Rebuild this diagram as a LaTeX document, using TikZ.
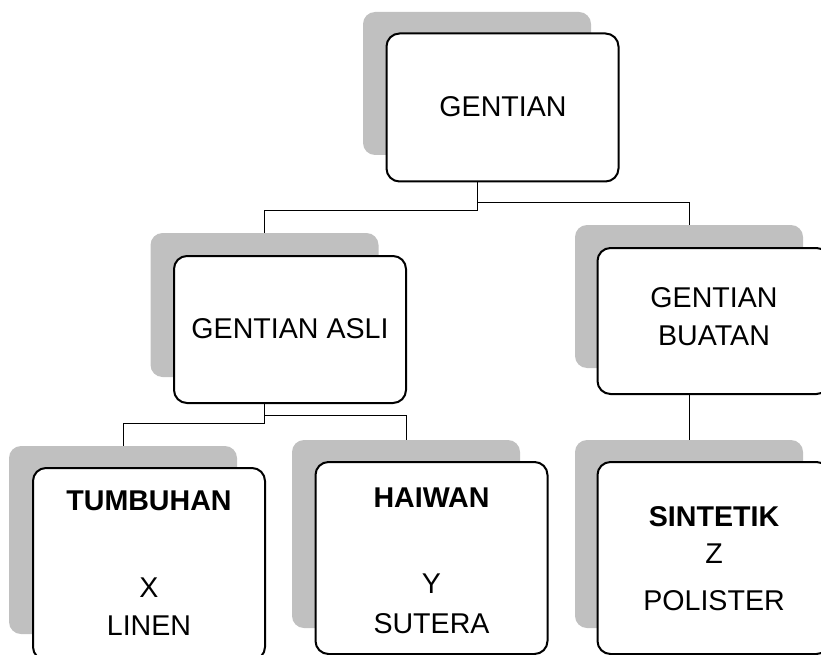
\documentclass[tikz,border=0pt]{standalone}
\usepackage{fontspec}
\setmainfont{Liberation Sans}
\definecolor{shadegray}{RGB}{192,192,192}
\begin{document}
\begin{tikzpicture}[x=1pt,y=-1pt,
  shadowbox/.style={rectangle, fill=shadegray, draw=none, rounded corners=12pt, inner sep=0pt, minimum width=228pt},
  mainbox/.style={rectangle, fill=white, draw=black, line width=2pt, rounded corners=13pt, inner sep=0pt, minimum width=232pt},
  conn/.style={draw=black, line width=0.9pt},
  lbl/.style={anchor=base, inner sep=0pt, font=\fontsize{28.6}{34}\selectfont},
  blbl/.style={lbl, font=\fontsize{28.6}{34}\selectfont\bfseries}]
\useasboundingbox (0,0) rectangle (821,655);
\clip (0,0) rectangle (821,655);
% shadows
\node[shadowbox, minimum height=143pt] (s1) at (477,83.5) {};
\node[shadowbox, minimum height=144pt] (s2) at (264.5,305) {};
\node[shadowbox, minimum height=143pt] (s3) at (689,296.5) {};
\node[shadowbox, minimum height=188pt] (s4) at (123,540) {};
\node[shadowbox, minimum height=188pt] (s5) at (406,534) {};
\node[shadowbox, minimum height=188pt] (s6) at (689,534) {};
% connectors
\draw[conn] (s1.south) -- ++(0,55) -| (s2.north);
\draw[conn] (s1.south) -- ++(0,47) -| (s3.north);
\draw[conn] (s2.south) -- ++(0,46) -| (s4.north);
\draw[conn] (s2.south) -- ++(0,38) -| (s5.north);
\draw[conn] (s3.south) -- (s6.north);
% main boxes
\node[mainbox, minimum height=148pt] (w1) at (502.5,107.5) {};
\node[mainbox, minimum height=147pt] (w2) at (290,329.5) {};
\node[mainbox, minimum height=146pt] (w3) at (713.5,321) {};
\node[mainbox, minimum height=192pt] (w4) at (149,564) {};
\node[mainbox, minimum height=192pt] (w5) at (431.5,558) {};
\node[mainbox, minimum height=192pt] (w6) at (713.5,558) {};
% texts
\node[lbl] (t1) at (503,117) {GENTIAN};
\node[lbl] (t2) at (290,338) {GENTIAN ASLI};
\node[lbl] (t3a) at (714,307) {GENTIAN};
\node[lbl] (t3b) at (714,345) {BUATAN};
\node[blbl] (t4a) at (149,510) {TUMBUHAN};
\node[lbl] (t4b) at (149,597) {X};
\node[lbl] (t4c) at (149,635) {LINEN};
\node[blbl] (t5a) at (431.5,507) {HAIWAN};
\node[lbl] (t5b) at (431.5,593) {Y};
\node[lbl] (t5c) at (431.5,633) {SUTERA};
\node[blbl] (t6a) at (714,526) {SINTETIK};
\node[lbl] (t6b) at (714,563) {Z};
\node[lbl] (t6c) at (714,610) {POLISTER};
\end{tikzpicture}
\end{document}
